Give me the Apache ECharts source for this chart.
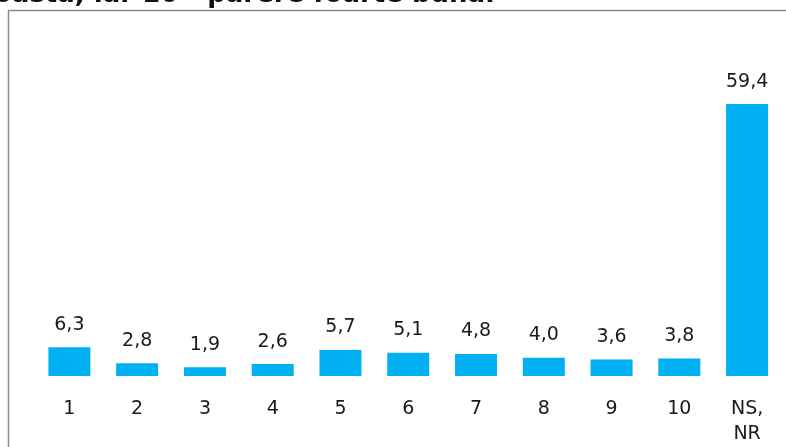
<!DOCTYPE html>
<html>
<head>
<meta charset="utf-8">
<script src="https://cdn.jsdelivr.net/npm/echarts@6/dist/echarts.min.js"></script>
<style>
  html, body { margin: 0; padding: 0; background: #fff; }
  #chart { width: 786px; height: 447px; }
</style>
</head>
<body>
<div id="chart"></div>
<script>
var categories = ['1', '2', '3', '4', '5', '6', '7', '8', '9', '10', 'NS,\nNR'];
var values = [6.3, 2.8, 1.9, 2.6, 5.7, 5.1, 4.8, 4.0, 3.6, 3.8, 59.4];
var titleText = 'Pe o scala de la 1 la 10, unde 1 inseamna parere foarte proasta, iar 10 - parere foarte buna.';

var myChart = echarts.init(document.getElementById('chart'));
var font = 'DejaVu Sans';
var option = {
	animation: false,
	title: {
		text: titleText,
		right: 286,
		top: -23,
		textStyle: { fontFamily: font, fontWeight: 'bold', fontSize: 26, color: '#111' }
	},
	graphic: [{
		type: 'rect',
		shape: { x: 8.5, y: 10.5, width: 820, height: 460 },
		style: { fill: 'none', stroke: '#8c8c8c', lineWidth: 1.5 },
		silent: true
	}],
	grid: { left: 35.5, right: 5, top: 40, bottom: 71 },
	xAxis: {
		type: 'category',
		data: categories,
		axisLine: { show: false },
		axisTick: { show: false },
		axisLabel: {
			margin: 21,
			fontFamily: font,
			fontSize: 19,
			lineHeight: 25,
			color: '#1a1a1a',
			verticalAlign: 'top'
		}
	},
	yAxis: {
		type: 'value',
		min: 0,
		max: 73.4,
		show: false,
		splitLine: { show: false }
	},
	series: [{
		type: 'bar',
		data: values,
		barWidth: 42,
		itemStyle: { color: '#00B0F0' },
		label: {
			show: true,
			position: 'top',
			distance: 13,
			fontFamily: font,
			fontSize: 19,
			color: '#1a1a1a',
			formatter: function (p) { return p.value.toFixed(1).replace('.', ','); }
		}
	}]
};
myChart.setOption(option);
</script>
</body>
</html>
